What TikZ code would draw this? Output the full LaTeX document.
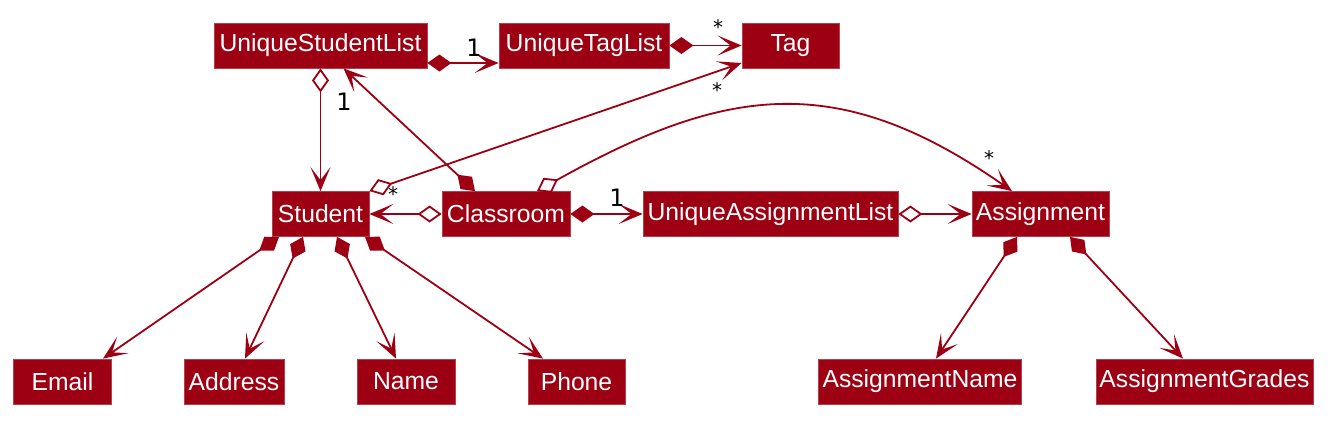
\documentclass[tikz,border=0pt]{standalone}
\usepackage{fontspec}
\setmainfont{Liberation Sans}
\newfontfamily\lblfont{DejaVu Sans}
\usetikzlibrary{arrows.meta,calc}
\definecolor{modelc}{HTML}{9D0012}
\tikzset{
  cls/.style={rectangle, fill=modelc, draw=modelc!75!white, line width=0.4pt,
    text=white, inner sep=0pt, minimum height=22.5pt,
    font=\fontsize{12.35}{14}\selectfont},
  lbl/.style={inner sep=0pt, text=black, font=\lblfont\fontsize{12}{14}\selectfont},
  star/.style={inner sep=0pt, text=black, font=\lblfont\fontsize{10}{12}\selectfont},
  conn/.style={draw=modelc, line width=0.9pt},
  comp/.style={conn, {Diamond[length=12pt,width=8.5pt,fill=modelc]}-{Stealth[length=12pt,width=10pt,inset=6.5pt]}},
  aggr/.style={conn, {Diamond[open,length=12pt,width=8.5pt,fill=white]}-{Stealth[length=12pt,width=10pt,inset=6.5pt]}},
}
\begin{document}
\begin{tikzpicture}[x=0.5pt,y=-0.5pt]
\useasboundingbox (0,0) rectangle (1334,425);
% classes
\node[cls, minimum width=106.5pt] (USL) at (320.5,45.5) {UniqueStudentList};
\node[cls, minimum width=85pt] (UTL) at (584,45.5) {UniqueTagList};
\node[cls, minimum width=48.5pt] (Tag) at (790.5,45.5) {Tag};
\node[cls, minimum width=48.5pt] (Student) at (320.5,214) {Student};
\node[cls, minimum width=64pt] (Classroom) at (506,214) {Classroom};
\node[cls, minimum width=127.5pt] (UAL) at (770.5,214) {UniqueAssignmentList};
\node[cls, minimum width=68.5pt] (Assignment) at (1040.5,214) {Assignment};
\node[cls, minimum width=49pt] (Email) at (62.5,381.5) {Email};
\node[cls, minimum width=50pt] (Address) at (234,381.5) {Address};
\node[cls, minimum width=49pt] (Name) at (406,381.5) {Name};
\node[cls, minimum width=48.5pt] (Phone) at (576.5,381.5) {Phone};
\node[cls, minimum width=101.5pt] (AName) at (920,381.5) {AssignmentName};
\node[cls, minimum width=108.5pt] (AGrades) at (1204.5,381.5) {AssignmentGrades};
% connectors
\draw[comp] ($(USL.east)+(0,17.5)$) -- ($(UTL.west)+(0,17.5)$);
\draw[comp] (UTL.east) -- (Tag.west);
\draw[aggr] (Student.north east) -- ($(Tag.west)+(0,17.5)$);
\draw[comp] ($(Classroom.north)+(-31,0)$) -- ($(USL.south)+(23,0)$);
\draw[aggr] (USL.south) -- (Student.north);
\draw[aggr] (Classroom.west) -- (Student.east);
\draw[comp] (Classroom.east) -- (UAL.west);
\draw[aggr] (UAL.east) -- (Assignment.west);
\draw[aggr] ($(Classroom.north)+(31,0)$) .. controls +(190,-106) and +(-173,-121) .. ($(Assignment.north)+(-28.5,0)$);
\draw[comp] ($(Student.south)+(-41.5,0)$) -- ($(Email.north)+(40.5,0)$);
\draw[comp] ($(Student.south)+(-17.5,0)$) -- ($(Address.north)+(11,0)$);
\draw[comp] ($(Student.south)+(16.5,0)$) -- ($(Name.north)+(-10,0)$);
\draw[comp] ($(Student.south)+(44.5,0)$) -- ($(Phone.north)+(-33.5,0)$);
\draw[comp] ($(Assignment.south)+(-23.5,0)$) -- ($(AName.north)+(16,0)$);
\draw[comp] ($(Assignment.south)+(29.5,0)$) -- ($(AGrades.north)+(-21.5,0)$);
% multiplicity labels
\node[lbl] (m1) at (474,47.5) {1};
\node[star] (m2) at (718,27) {*};
\node[star] (m3) at (717,90) {*};
\node[star] (m4) at (393,194) {*};
\node[lbl] (m5) at (344,102) {1};
\node[lbl] (m6) at (617,198) {1};
\node[star] (m7) at (989,158) {*};
\end{tikzpicture}
\end{document}
